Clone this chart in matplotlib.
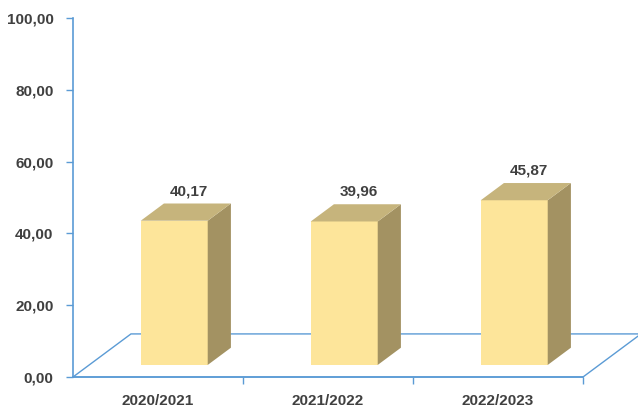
import matplotlib
matplotlib.use("Agg")
import matplotlib.pyplot as plt
from matplotlib.patches import Polygon

# ─── Datos ────────────────────────────────────────────────────────────────────
categorias = ["2020/2021", "2021/2022", "2022/2023"]
valores = [40.17, 39.96, 45.87]
y_ticks = [0, 20, 40, 60, 80, 100]

# ─── Estilo ───────────────────────────────────────────────────────────────────
C_FRENTE = "#FDE59A"
C_LADO = "#A39262"
C_TECHO = "#C6B47C"
C_EJE = "#5B9BD5"
C_TEXTO = "#404040"
FUENTE = "Liberation Sans"

# profundidad del suelo 3D (en unidades de datos)
DX, DY = 0.341, 12.0
F0, F1 = 0.28, 0.68      # cara frontal / trasera de la barra
ANCHO = 0.394


def fmt(v):
    return f"{v:.2f}".replace(".", ",")


fig = plt.figure(figsize=(6.38, 4.08), dpi=100)
ax = fig.add_axes([73 / 638, 31 / 408, 510 / 638, 359 / 408])
ax.set_xlim(-0.5, len(categorias) - 0.5)
ax.set_ylim(0, 100)

# suelo
x0, x1 = -0.5, len(categorias) - 0.5
suelo = Polygon([(x0, 0), (x1, 0), (x1 + DX, DY), (x0 + DX, DY)], closed=True,
                fill=False, edgecolor=C_EJE, lw=1.0, clip_on=False, zorder=1)
ax.add_patch(suelo)

# barras 3D
for i, v in enumerate(valores):
    xl = i - ANCHO / 2 + F0 * DX
    xr = xl + ANCHO
    yb = F0 * DY
    yt = yb + v
    ddx, ddy = (F1 - F0) * DX, (F1 - F0) * DY
    frente = [(xl, yb), (xr, yb), (xr, yt), (xl, yt)]
    lado = [(xr, yb), (xr + ddx, yb + ddy), (xr + ddx, yt + ddy), (xr, yt)]
    techo = [(xl, yt), (xr, yt), (xr + ddx, yt + ddy), (xl + ddx, yt + ddy)]
    for pts, c in [(frente, C_FRENTE), (lado, C_LADO), (techo, C_TECHO)]:
        ax.add_patch(Polygon(pts, closed=True, facecolor=c, edgecolor="none",
                             clip_on=False, zorder=3))
    ax.text(i + (F0 + F1) / 2 * DX + 0.02, yt + ddy + 1.5, fmt(v),
            ha="center", va="bottom", fontsize=11, fontweight="bold",
            family=FUENTE, color=C_TEXTO, zorder=4)

# ejes
for s in ["top", "right"]:
    ax.spines[s].set_visible(False)
ax.spines["left"].set_color(C_EJE)
ax.spines["bottom"].set_color(C_EJE)
ax.spines["left"].set_linewidth(1.2)
ax.spines["bottom"].set_linewidth(1.2)

ax.set_yticks(y_ticks)
ax.set_yticklabels([fmt(t) for t in y_ticks])
ax.set_xticks(range(len(categorias)))
ax.set_xticklabels(categorias)
ax.set_xticks([k + 0.5 for k in range(len(categorias))], minor=True)

ax.tick_params(axis="y", length=5, width=1, color=C_EJE, pad=9,
               labelsize=11, labelcolor=C_TEXTO)
ax.tick_params(axis="x", which="major", length=0, pad=12,
               labelsize=11, labelcolor=C_TEXTO)
ax.tick_params(axis="x", which="minor", length=5, width=1, color=C_EJE)
for lab in ax.get_xticklabels() + ax.get_yticklabels():
    lab.set_fontweight("bold")
    lab.set_family(FUENTE)

fig.savefig("out.png", dpi=100)
